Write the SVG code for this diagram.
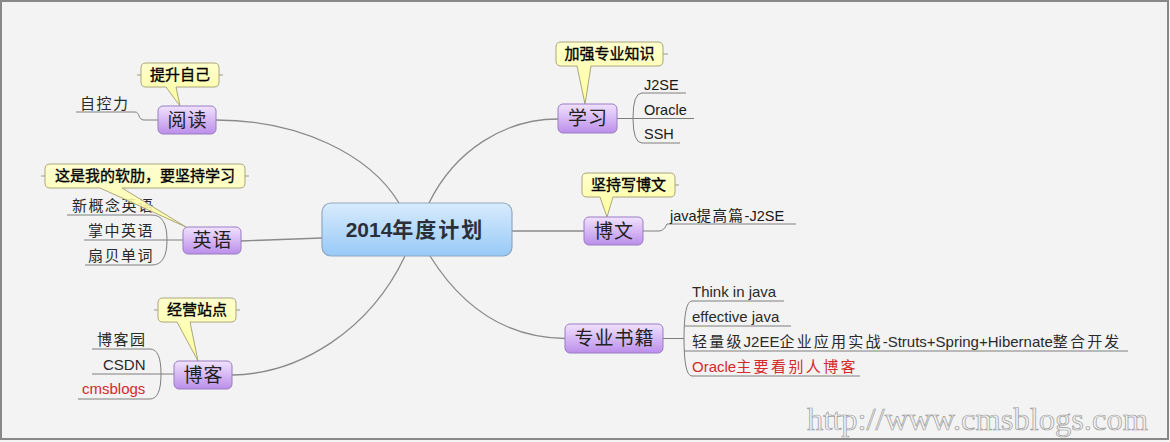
<svg xmlns="http://www.w3.org/2000/svg" width="1170" height="442" viewBox="0 0 1170 442">
<defs>
<linearGradient id="gP" x1="0" y1="0" x2="0" y2="1"><stop offset="0" stop-color="#f1e2fe"/><stop offset="1" stop-color="#bb8eea"/></linearGradient>
<linearGradient id="gB" x1="0" y1="0" x2="0" y2="1"><stop offset="0" stop-color="#d8ecfd"/><stop offset="1" stop-color="#98c9f7"/></linearGradient>
<linearGradient id="gY" x1="0" y1="0" x2="0" y2="1"><stop offset="0" stop-color="#ffffcc"/><stop offset="1" stop-color="#ffff9c"/></linearGradient>
<style>
.conn{fill:none;stroke:#8a8a8a;stroke-width:1.3}
.sub{fill:none;stroke:#7e7e7e;stroke-width:1}
.topic{fill:url(#gP);stroke:#9a7dc2;stroke-width:1}
.central{fill:url(#gB);stroke:#8ea8c4;stroke-width:1.2}
.call{fill:url(#gY);stroke:#aaa67c;stroke-width:1}
.tick{fill:none;stroke:#9a9a80;stroke-width:1}
text{font-family:"Liberation Sans","Noto Sans CJK SC",sans-serif}
.tt{font-size:19px;fill:#222;text-anchor:middle;letter-spacing:1px}
.ct{font-size:15px;fill:#000;stroke:#000;stroke-width:0.35;text-anchor:middle}
.ch{font-size:15px;fill:#2a2a2a}
.cjk{letter-spacing:1.5px}
.en{font-size:14.5px;fill:#1a1a1a}
.red{fill:#d42a2a}
.wm{font-family:"Liberation Serif",serif;font-size:32.5px;fill:#f0f0f0;stroke:#9c9c9c;stroke-width:0.7}
</style>
</defs>
<rect x="0" y="0" width="1170" height="442" fill="#f3f3f3"/>
<rect x="1" y="1" width="1167" height="438" fill="none" stroke="#888" stroke-width="2"/>

<g id="connectors">
<path class="conn" d="M216,120 C300,120 370,155 399,203"/>
<path class="conn" d="M429,203 C455,150 505,119 558,119"/>
<path class="conn" d="M241,241 L322,238"/>
<path class="conn" d="M512,231 L584,231"/>
<path class="conn" d="M405,256 C370,330 300,374 232,375"/>
<path class="conn" d="M430,256 C470,320 520,338 565,338.5"/>
</g>

<g id="central">
<rect class="central" x="322" y="203" width="190" height="53" rx="9"/>
<text x="415" y="237" font-size="21" font-weight="bold" fill="#2b2f3a" text-anchor="middle">2014<tspan letter-spacing="2">年度计划</tspan></text>
</g>

<g id="reading">
<path class="sub" d="M76,112 H135 C140,112 138,120 144,120 H158"/>
<text class="ch cjk" x="80" y="109">自控力</text>
<path class="tick" d="M137,75 H141 M219,75 H223"/>
<path class="call" d="M146,63 H214 Q219,63 219,68 V82 Q219,87 214,87 H176 L180,106 L166,87 H146 Q141,87 141,82 V68 Q141,63 146,63 Z"/>
<text class="ct" x="180" y="80">提升自己</text>
<rect class="topic" x="158" y="106" width="58" height="28" rx="5"/>
<text class="tt" x="187.5" y="127">阅读</text>
</g>

<g id="english">
<path class="sub" d="M67,215 H152 Q167,215 167,240 Q167,265 152,265 H85 M84,240 H183"/>
<text class="ch cjk" x="72" y="211">新概念英语</text>
<text class="ch cjk" x="88" y="236">掌中英语</text>
<text class="ch cjk" x="88" y="261">扇贝单词</text>
<path class="tick" d="M41,176 H45 M245,176 H249"/>
<path class="call" d="M50,164 H240 Q245,164 245,169 V183 Q245,188 240,188 H122 L186,227 L100,188 H50 Q45,188 45,183 V169 Q45,164 50,164 Z" fill-opacity="0.88"/>
<text class="ct" x="145" y="181">这是我的软肋，要坚持学习</text>
<rect class="topic" x="183" y="227" width="58" height="27" rx="5"/>
<text class="tt" x="212.5" y="247">英语</text>
</g>

<g id="blog">
<path class="sub" d="M92,349 H150 Q161,349 161,374 Q161,399 150,399 H78 M92,374 H174"/>
<text class="ch cjk" x="97" y="345">博客园</text>
<text class="ch" x="103" y="370">CSDN</text>
<text class="ch red" x="82" y="394">cmsblogs</text>
<path class="tick" d="M154,310 H158 M236,310 H240"/>
<path class="call" d="M163,298 H231 Q236,298 236,303 V317 Q236,322 231,322 H190 L198,361 L177,322 H163 Q158,322 158,317 V303 Q158,298 163,298 Z"/>
<text class="ct" x="197" y="315">经营站点</text>
<rect class="topic" x="174" y="361" width="58" height="28" rx="5"/>
<text class="tt" x="203.5" y="382">博客</text>
</g>

<g id="study">
<path class="sub" d="M686,93 H642 Q633,93 633,118 Q633,143 642,143 H680 M617,118.5 H694"/>
<text class="en" x="644" y="90">J2SE</text>
<text class="en" x="644" y="115">Oracle</text>
<text class="en" x="644" y="139">SSH</text>
<path class="tick" d="M663,54 H668"/>
<path class="call" d="M561,42 H658 Q663,42 663,47 V61 Q663,66 658,66 H591 L585,104 L577,66 H561 Q556,66 556,61 V47 Q556,42 561,42 Z"/>
<text class="ct" x="609.5" y="59">加强专业知识</text>
<rect class="topic" x="558" y="104" width="59" height="29" rx="5"/>
<text class="tt" x="588" y="125">学习</text>
</g>

<g id="blogpost">
<path class="sub" d="M643,231 H659 Q664,231 667,224 H796"/>
<text class="en" x="670" y="221">java<tspan class="cjk">提高篇</tspan>-J2SE</text>
<path class="tick" d="M675,185 H679"/>
<path class="call" d="M587,173 H670 Q675,173 675,178 V192 Q675,197 670,197 H613 L607,217 L600,197 H587 Q582,197 582,192 V178 Q582,173 587,173 Z"/>
<text class="ct" x="628.5" y="190">坚持写博文</text>
<rect class="topic" x="584" y="217" width="59" height="28" rx="5"/>
<text class="tt" x="614" y="238">博文</text>
</g>

<g id="books">
<path class="sub" d="M784,301 H692 Q684,301 684,338.5 Q684,376 692,376 H860 M663,338.5 H684 M685,326 H791 M684,351 H1128"/>
<text class="ch" x="692" y="297">Think in java</text>
<text class="ch" x="692" y="322">effective java</text>
<text class="ch" x="692" y="347"><tspan letter-spacing="2.2">轻量级</tspan>J2EE<tspan letter-spacing="2.2">企业应用实战</tspan>-Struts+Spring+Hibernate<tspan letter-spacing="2.2">整合开发</tspan></text>
<text class="ch red" x="692" y="372">Oracle<tspan letter-spacing="2.4">主要看别人博客</tspan></text>
<rect class="topic" x="565" y="324" width="98" height="29" rx="5"/>
<text class="tt" x="614.5" y="345">专业书籍</text>
</g>

<text class="wm" x="807" y="430">http://www.cmsblogs.com</text>
</svg>
